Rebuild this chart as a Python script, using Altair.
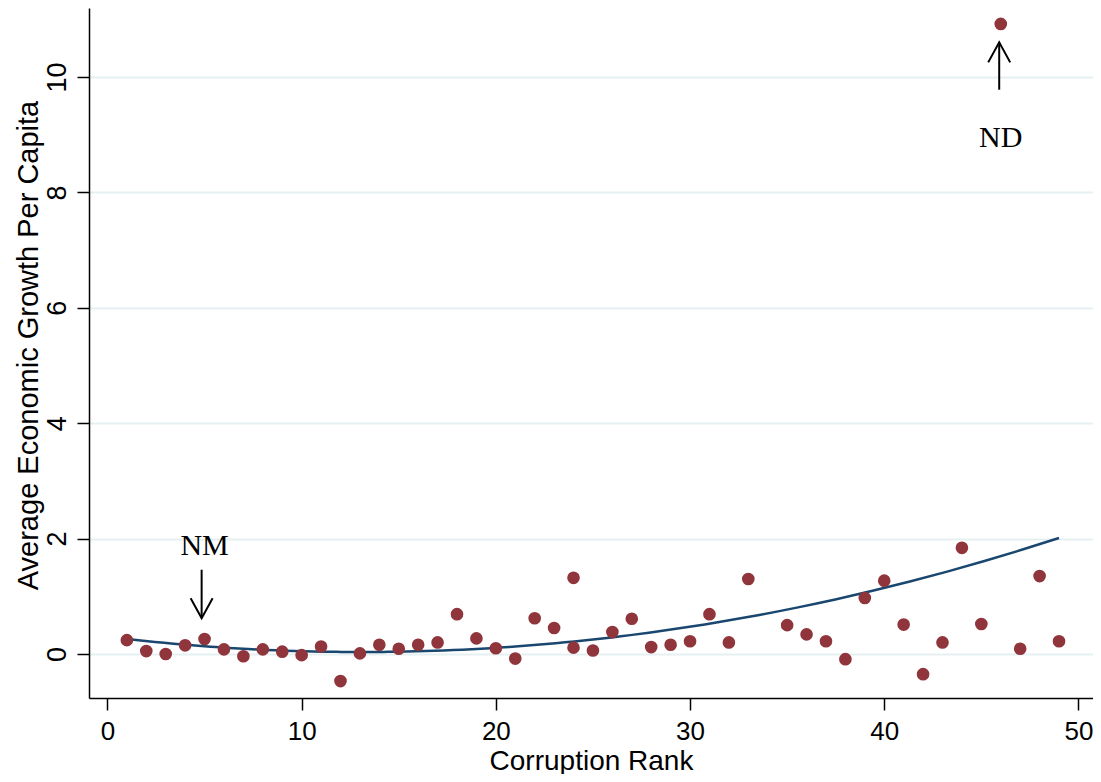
import altair as alt
import pandas as pd

# ---- data ----
rank = [1, 2, 3, 4, 5, 6, 7, 8, 9, 10, 11, 12, 13, 14, 15, 16, 17, 18, 19, 20,
        21, 22, 23, 24, 24, 25, 26, 27, 28, 29, 30, 31, 32, 33, 35, 36, 37, 38,
        39, 40, 41, 42, 43, 44, 45, 46, 47, 48, 49]
growth = [0.24, 0.05, 0.00, 0.15, 0.26, 0.08, -0.04, 0.08, 0.04, -0.02, 0.13,
          -0.47, 0.01, 0.16, 0.09, 0.16, 0.20, 0.69, 0.27, 0.10, -0.08, 0.62,
          0.45, 1.32, 0.11, 0.06, 0.38, 0.61, 0.12, 0.16, 0.22, 0.69, 0.20,
          1.30, 0.50, 0.34, 0.22, -0.09, 0.97, 1.27, 0.51, -0.35, 0.20, 1.84,
          0.52, 10.92, 0.09, 1.35, 0.22]

x_ticks = [0, 10, 20, 30, 40, 50]
y_ticks = [0, 2, 4, 6, 8, 10]

# annotations (data coordinates)
ann_text = ["NM", "ND"]
ann_x = [5.0, 46.0]
ann_y = [1.72, 8.79]
arrow_x = [4.85, 45.92]
arrow_from = [1.46, 9.78]
arrow_to = [0.62, 10.60]
arrow_dir = ["down", "up"]

df = pd.DataFrame({"rank": rank, "growth": growth})
ann = pd.DataFrame({"label": ann_text, "x": ann_x, "y": ann_y})
arr = pd.DataFrame({"x": arrow_x, "y1": arrow_from, "y2": arrow_to, "dir": arrow_dir})

POINT = "#90353b"
LINE = "#1a476f"
SANS = "Liberation Sans, Arial, sans-serif"
SERIF = "Liberation Serif, Times New Roman, serif"

xscale = alt.Scale(domain=[-0.95, 50.75], nice=False, zero=False)
yscale = alt.Scale(domain=[-0.763, 11.196], nice=False, zero=False)

xaxis = alt.Axis(values=x_ticks, grid=False, title="Corruption Rank", format="d",
                 domainColor="#000000", domainWidth=1.5,
                 tickColor="#000000", tickWidth=1.5, tickSize=12,
                 labelFont=SANS, labelFontSize=26, labelColor="#000000",
                 labelBaseline="alphabetic", labelPadding=29,
                 titleFont=SANS, titleFontSize=28, titleFontWeight="normal",
                 titleColor="#000000", titleBaseline="alphabetic", titleY=71)
yaxis = alt.Axis(values=y_ticks, grid=True, gridColor="#e6eff1", gridWidth=2,
                 title="Average Economic Growth Per Capita", format="d",
                 domainColor="#000000", domainWidth=1.5,
                 tickColor="#000000", tickWidth=1.5, tickSize=12,
                 labelFont=SANS, labelFontSize=27, labelColor="#000000",
                 labelAngle=270, labelAlign="center", labelBaseline="alphabetic",
                 labelPadding=12,
                 titleFont=SANS, titleFontSize=29, titleFontWeight="normal",
                 titleColor="#000000", titleAngle=270, titleAlign="center",
                 titleBaseline="alphabetic", titleX=-52, titleY=337)

base = alt.Chart(df)

fit = base.transform_regression("rank", "growth", method="poly", order=2).mark_line(
    color=LINE, strokeWidth=2.5
).encode(x=alt.X("rank:Q", scale=xscale, axis=xaxis),
         y=alt.Y("growth:Q", scale=yscale, axis=yaxis))

pts = base.mark_circle(color=POINT, size=160, opacity=1).encode(
    x=alt.X("rank:Q", scale=xscale, axis=xaxis),
    y=alt.Y("growth:Q", scale=yscale, axis=yaxis))

labels = alt.Chart(ann).mark_text(font=SERIF, fontSize=30, color="#000000",
                                  baseline="alphabetic", align="center").encode(
    x=alt.X("x:Q", scale=xscale), y=alt.Y("y:Q", scale=yscale), text="label:N")

shafts = alt.Chart(arr).mark_rule(color="#000000", strokeWidth=2).encode(
    x=alt.X("x:Q", scale=xscale), y=alt.Y("y1:Q", scale=yscale), y2="y2:Q")

heads = alt.Chart(arr).mark_point(filled=False, color="#000000", strokeWidth=2,
                                  size=1600, opacity=1).encode(
    x=alt.X("x:Q", scale=xscale), y=alt.Y("y2:Q", scale=yscale),
    shape=alt.Shape("dir:N", scale=alt.Scale(
        domain=["down", "up"],
        range=["M-0.55,-1L0,0L0.55,-1", "M-0.55,1L0,0L0.55,1"]), legend=None))

chart = alt.layer(fit, pts, shafts, heads, labels).properties(
    width=1004, height=690,
    autosize=alt.AutoSizeParams(type="none"),
    padding={"left": 81, "top": 0, "right": 0, "bottom": 76},
    background="#ffffff",
).configure_view(stroke=None)

chart.save("out.html", embed_options={"renderer": "svg", "actions": False})
